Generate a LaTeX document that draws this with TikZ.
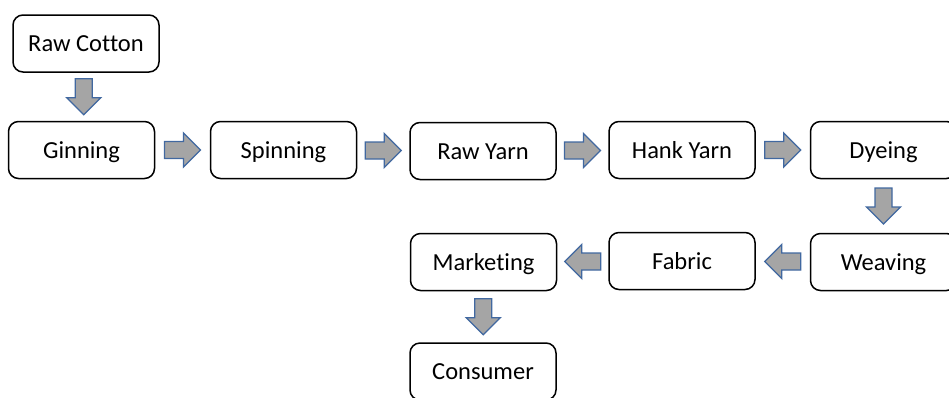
\documentclass[tikz,border=0pt]{standalone}
\usepackage{fontspec}
\setmainfont[Ligatures=NoCommon]{Carlito}
\usetikzlibrary{calc}
\definecolor{arrfill}{RGB}{165,165,165}
\definecolor{arrline}{RGB}{65,104,160}
\tikzset{
  stepbox/.style={draw=black, line width=1.5pt, rounded corners=10pt, fill=white,
    minimum width=146pt, minimum height=57pt, inner sep=0pt,
    text height=16pt, text depth=0pt,
    font=\fontsize{24.5}{29}\selectfont, text=black},
  blockarr/.style={draw=arrline, fill=arrfill, line width=1.3pt, line join=miter}
}
\newcommand\flowarrow[3]{%
  \path ($(#1)!0.5!(#2)$) coordinate (#1-#2-m);
  \draw[blockarr, shift={(#1-#2-m)}, rotate=#3]
    (-18,-8.5) -- (1,-8.5) -- (1,-17) -- (18,0) -- (1,17) -- (1,8.5) -- (-18,8.5) -- cycle;
}
\begin{document}
\begin{tikzpicture}[x=1pt,y=1pt]
\useasboundingbox (0,0) rectangle (949,-397);
\node[stepbox] (raw)   at (86,-43.5)   {Raw Cotton};
\node[stepbox] (gin)   at (81.5,-150)  {Ginning};
\node[stepbox] (spin)  at (283.5,-150) {Spinning};
\node[stepbox] (rawy)  at (483,-151)   {Raw Yarn};
\node[stepbox] (hank)  at (682,-150)   {Hank Yarn};
\node[stepbox] (dye)   at (883.5,-150) {Dyeing};
\node[stepbox] (weave) at (883.5,-262) {Weaving};
\node[stepbox] (fab)   at (682,-261)   {Fabric};
\node[stepbox] (mark)  at (483.5,-262) {Marketing};
\node[stepbox] (cons)  at (483,-371.5) {Consumer};
\flowarrow{raw}{gin}{-90}
\flowarrow{gin}{spin}{0}
\flowarrow{spin}{rawy}{0}
\flowarrow{rawy}{hank}{0}
\flowarrow{hank}{dye}{0}
\flowarrow{dye}{weave}{-90}
\flowarrow{weave}{fab}{180}
\flowarrow{fab}{mark}{180}
\flowarrow{mark}{cons}{-90}
\end{tikzpicture}
\end{document}
